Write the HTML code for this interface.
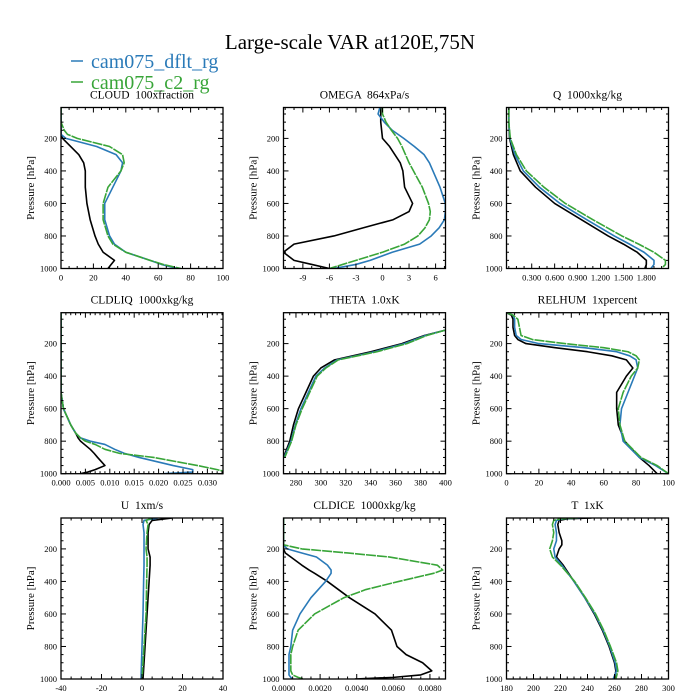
<!DOCTYPE html>
<html><head><meta charset="utf-8"><style>
html,body{margin:0;padding:0;background:#fff;}
svg{display:block;font-family:"Liberation Serif",serif;}
text{white-space:pre;}
</style></head><body>
<svg id="chart" width="700" height="700" viewBox="0 0 700 700" xmlns="http://www.w3.org/2000/svg">
<rect width="700" height="700" fill="#fff"/>
<text x="350" y="49" font-size="21" text-anchor="middle">Large-scale VAR at120E,75N</text>
<g>
<g><line x1="71" y1="61" x2="83" y2="61" stroke="#2a7ab8" stroke-width="1.5"/><text x="91" y="68" font-size="20" fill="#2a7ab8">cam075_dflt_rg</text></g>
<g><line x1="71" y1="82" x2="83" y2="82" stroke="#38a538" stroke-width="1.5"/><text x="91" y="89" font-size="20" fill="#38a538">cam075_c2_rg</text></g>
</g>
</svg>
<script>
// ---------- data ----------
const seriesNames = ["obs", "cam075_dflt_rg", "cam075_c2_rg"];
const seriesColors = ["#000000", "#2a7ab8", "#38a538"];

const cloudP = [10,100,150,175,200,250,300,350,400,500,600,700,800,850,900,950,975,1000];
const cloudBlack = [0,0,0,0,1,6,11,14,15,15,16,18,21,23,26,33,31,29];
const cloudBlue = [0,0,0,0,3,22,34,38,37,32,27,27,30,33,40,55,62,72];
const cloudGreen = [0,0,2,4,10,30,38,39,37,29,26,26,29,32,40,55,63,74];
const cloudTicks = [0,20,40,60,80,100];

const omegaP = [10,50,100,150,200,250,300,350,400,500,600,650,700,750,800,850,900,950,975,1000];
const omegaBlack = [-0.2,-0.2,-0.2,-0.1,0,0.8,1.4,2.0,2.3,2.5,3.4,3.0,1.2,-2.2,-5.5,-10,-11.2,-10,-8,-6];
const omegaBlue = [-0.3,-0.5,0.2,1.1,2.4,3.6,4.7,5.3,5.7,6.5,7.1,7.1,7.0,6.4,5.5,4.2,1.1,-1.4,-3,-5.5];
const omegaGreen = [0,0,0.4,1.0,1.7,2.2,2.6,3.0,3.5,4.5,5.2,5.4,5.3,4.8,4.0,2.5,0,-3,-4.5,-6];
const omegaTicks = [-9,-6,-3,0,3,6];

const qP = [10,100,200,300,400,500,600,700,800,850,900,950,975,1000];
const qBlack = [0,0,0.01,0.06,0.15,0.35,0.6,0.95,1.3,1.5,1.68,1.8,1.8,1.78];
const qBlue = [0,0,0.015,0.08,0.19,0.4,0.67,1.02,1.38,1.58,1.77,1.9,1.9,1.86];
const qGreen = [0,0,0.02,0.1,0.23,0.46,0.74,1.1,1.48,1.7,1.9,2.05,2.05,2.0];
const qTicks = [0.3,0.6,0.9,1.2,1.5,1.8];

const liqP = [10,200,400,500,600,700,750,780,800,820,850,875,900,950,975,990,1000];
const liqBlack = [0,0,0,0,0.0005,0.002,0.003,0.0035,0.004,0.0048,0.006,0.0068,0.0075,0.009,0.007,0.0055,0.004];
const liqBlue = [0,0,0,0,0.0005,0.002,0.003,0.004,0.006,0.009,0.011,0.013,0.016,0.023,0.027,0.027,0.021];
const liqGreen = [0,0,0,0,0.0005,0.002,0.003,0.004,0.005,0.007,0.009,0.012,0.019,0.028,0.032,0.034,0.035];
const liqTicks = [0,0.005,0.01,0.015,0.02,0.025,0.03];

const thetaP = [117,150,200,250,300,350,400,500,600,700,800,900];
const thetaBlack = [400,383,365,340,311,300,294,288,282,278,275,270];
const thetaBlue = [400,384,367,343,313,303,296,290,284,279.5,276,270.5];
const thetaGreen = [400,385,369,345,314,304,297,291,285,280,276.5,271];
const thetaTicks = [280,300,320,340,360,380,400];

const rhP = [10,25,50,100,150,175,200,225,250,275,300,350,400,500,600,700,800,900,950,1000];
const rhBlack = [0,3,4,4,5,7,12,30,50,65,74,78,74,68,68,69,73,82,88,93];
const rhBlue = [0,4,5,5,6,9,20,48,68,76,80,81,79,75,71,70,72,82,92,100];
const rhGreen = [0,4,7,8,9,16,36,60,75,80,82,81,77,72,69,70,73,83,93,100];
const rhTicks = [0,20,40,60,80,100];

const uP = [10,25,50,100,200,250,300,400,600,800,1000];
const uBlack = [15,5,3.5,3,3,4,4,3.5,2.5,1.5,0.5];
const uBlue = [8,1,0.5,1,1,1,1,0.8,0.5,0,-0.5];
const uGreen = [5,2,3,2.5,2,2.5,2.5,2.3,2,1,0];
const uTicks = [-40,-20,0,20,40];

const iceP = [10,175,200,225,250,300,330,350,400,450,500,600,700,800,850,900,950,975,990,1000];
const iceBlack = [0,0,0,0.0001,0.0004,0.001,0.0014,0.0017,0.0024,0.003,0.0036,0.005,0.0059,0.0062,0.0067,0.0076,0.0081,0.0075,0.006,0.0039];
const iceBlue = [0,0,0.0002,0.001,0.0018,0.0024,0.0026,0.0026,0.0023,0.0019,0.0015,0.0009,0.0005,0.0004,0.0003,0.0003,0.0003,0.0003,0.0004,0.0005];
const iceGreen = [0,0,0.001,0.0035,0.0058,0.0084,0.0087,0.0082,0.0063,0.0045,0.0033,0.0017,0.0008,0.0005,0.0004,0.0004,0.0004,0.0005,0.0008,0.0011];
const iceTicks = [0,0.002,0.004,0.006,0.008];

const tP = [10,15,25,50,100,150,175,200,250,300,400,500,600,700,800,900,950,1000];
const tBlack = [243,225,219,218,219,221,221,219,217,222,230,238,245,251,256,260,261,260];
const tBlue = [235,222,217,216,217,217,216,215,216,221,230,238,245.5,251.5,256.5,260.5,261.5,259];
const tGreen = [233,220,215,214,215,214,213,212,214,220,230.5,238.5,246,252,257,261.5,262.5,261];
const tTicks = [180,200,220,240,260,280,300];

const pTicks = [200,400,600,800,1000];

// ---------- layout ----------
const colX = [61, 283.5, 506.5];
const rowY = [107.5, 312.7, 518];
const W = 162, H = 161;
const P_TOP = 10, P_BOT = 1000;

const panels = [
  {name:"cloud", title:"CLOUD  100xfraction", xmin:0, xmax:100, ticks:cloudTicks, minor:5, fmt:v=>String(v), p:cloudP, s:[cloudBlack,cloudBlue,cloudGreen]},
  {name:"omega", title:"OMEGA  864xPa/s", xmin:-11.19, xmax:7.12, ticks:omegaTicks, minor:1, fmt:v=>String(v), p:omegaP, s:[omegaBlack,omegaBlue,omegaGreen]},
  {name:"q", title:"Q  1000xkg/kg", xmin:-0.03, xmax:2.09, ticks:qTicks, minor:0.1, fmt:v=>v.toFixed(3), p:qP, s:[qBlack,qBlue,qGreen]},
  {name:"cldliq", title:"CLDLIQ  1000xkg/kg", xmin:0, xmax:0.0332, ticks:liqTicks, minor:0.001, fmt:v=>v.toFixed(3), p:liqP, s:[liqBlack,liqBlue,liqGreen]},
  {name:"theta", title:"THETA  1.0xK", xmin:270, xmax:400, ticks:thetaTicks, minor:5, fmt:v=>String(v), p:thetaP, s:[thetaBlack,thetaBlue,thetaGreen]},
  {name:"relhum", title:"RELHUM  1xpercent", xmin:0, xmax:100, ticks:rhTicks, minor:5, fmt:v=>String(v), p:rhP, s:[rhBlack,rhBlue,rhGreen]},
  {name:"u", title:"U  1xm/s", xmin:-40, xmax:40, ticks:uTicks, minor:5, fmt:v=>String(v), p:uP, s:[uBlack,uBlue,uGreen]},
  {name:"cldice", title:"CLDICE  1000xkg/kg", xmin:0, xmax:0.00885, ticks:iceTicks, minor:0.0005, fmt:v=>v.toFixed(4), p:iceP, s:[iceBlack,iceBlue,iceGreen]},
  {name:"t", title:"T  1xK", xmin:180, xmax:300, ticks:tTicks, minor:5, fmt:v=>String(v), p:tP, s:[tBlack,tBlue,tGreen]}
];

const NS = "http://www.w3.org/2000/svg";
const svg = document.getElementById("chart");
function mk(tag, attrs, parent){
  const e = document.createElementNS(NS, tag);
  for (const k in attrs) e.setAttribute(k, attrs[k]);
  parent.appendChild(e);
  return e;
}

panels.forEach((pn, i) => {
  const x0 = colX[i % 3], y0 = rowY[Math.floor(i / 3)];
  const xs = v => x0 + (v - pn.xmin) / (pn.xmax - pn.xmin) * W;
  const ys = p => y0 + (p - P_TOP) / (P_BOT - P_TOP) * H;
  const g = mk("g", {}, svg);
  
  

  const t = mk("text", {x: x0 + W/2, y: y0 - 9, "font-size": 11.5, "text-anchor": "middle"}, g);
  t.textContent = pn.title;
  
  

  const yl = mk("text", {x: 0, y: 0, "font-size": 11, "text-anchor": "middle", transform: "translate(" + (x0 - 27) + "," + (y0 + H/2) + ") rotate(-90)"}, g);
  yl.textContent = "Pressure [hPa]";
  
  

  const cid = "clip" + i;
  const cp = mk("clipPath", {id: cid}, g);
  mk("rect", {x: x0, y: y0, width: W, height: H}, cp);

  pn.s.forEach((vals, k) => {
    let d = "";
    vals.forEach((v, j) => { d += (j ? "L" : "M") + xs(v).toFixed(2) + "," + ys(pn.p[j]).toFixed(2); });
    const attrs = {d: d, fill: "none", stroke: seriesColors[k], "stroke-width": 1.6, "stroke-linejoin": "round", "clip-path": "url(#" + cid + ")"};
    if (k === 2) attrs["stroke-dasharray"] = "10 1";
    const path = mk("path", attrs, g);
    
    
  });

  const tk = mk("g", {stroke: "#000", "stroke-width": 1}, g);
  
  
  const eps = 1e-9;
  const mStart = Math.ceil((pn.xmin - eps) / pn.minor);
  for (let m = mStart; m * pn.minor <= pn.xmax + eps; m++) {
    const v = m * pn.minor;
    const major = pn.ticks.some(tv => Math.abs(tv - v) < pn.minor * 0.01);
    const L = major ? 5 : 2.5;
    const xx = xs(v);
    mk("line", {x1: xx, y1: y0 + H, x2: xx, y2: y0 + H - L}, tk);
    mk("line", {x1: xx, y1: y0, x2: xx, y2: y0 + L}, tk);
  }
  for (let p = 50; p <= 1000; p += 50) {
    const major = pTicks.indexOf(p) >= 0;
    const L = major ? 5 : 2.5;
    const yy = ys(p);
    mk("line", {x1: x0, y1: yy, x2: x0 + L, y2: yy}, tk);
    mk("line", {x1: x0 + W, y1: yy, x2: x0 + W - L, y2: yy}, tk);
  }
  pn.ticks.forEach(v => {
    const lb = mk("text", {x: xs(v), y: y0 + H + 12, "font-size": 8.5, "text-anchor": "middle"}, g);
    lb.textContent = pn.fmt(v);
    
    
  });
  pTicks.forEach(p => {
    const lb = mk("text", {x: x0 - 4, y: ys(p) + 3, "font-size": 8.5, "text-anchor": "end"}, g);
    lb.textContent = String(p);
    
    
  });
  const fr = mk("rect", {x: x0, y: y0, width: W, height: H, fill: "none", stroke: "#000", "stroke-width": 1.3}, g);
  
  
});
</script>
</body></html>
